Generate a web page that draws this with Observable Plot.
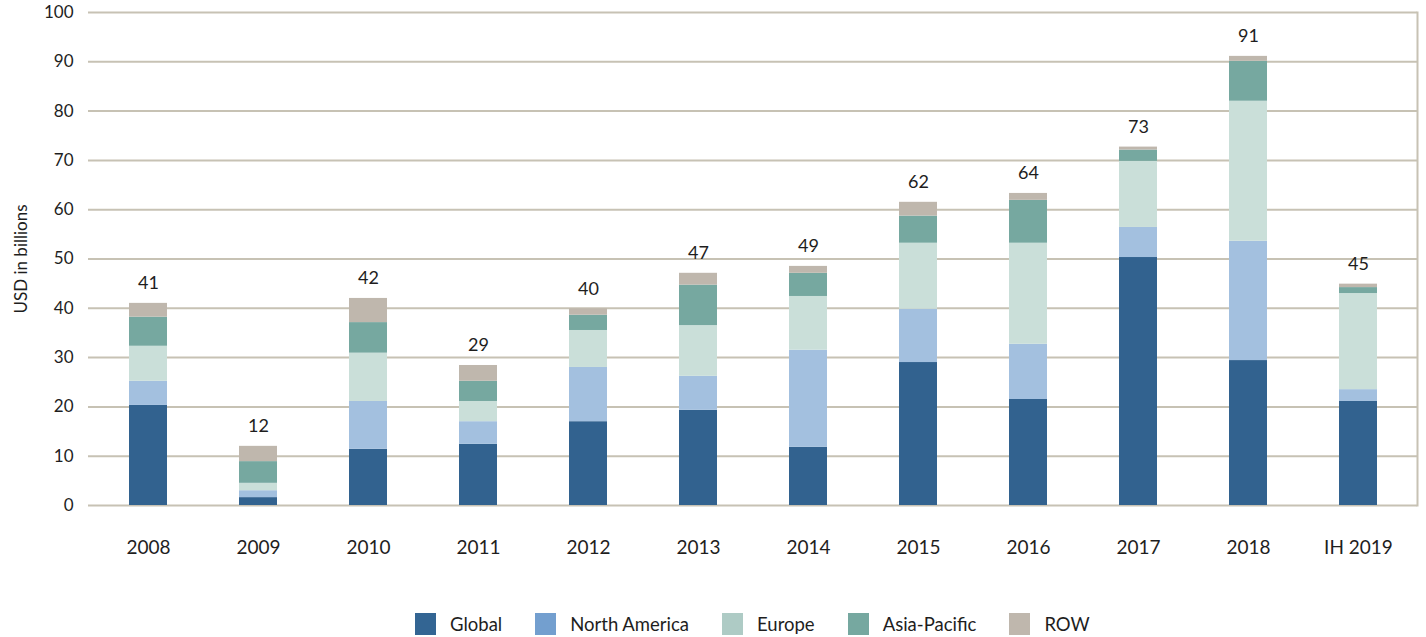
<!DOCTYPE html>
<html>
<head>
<meta charset="utf-8">
<script src="https://cdn.jsdelivr.net/npm/d3@7"></script>
<script src="https://cdn.jsdelivr.net/npm/@observablehq/plot@0.6"></script>
<style>
  html, body { margin: 0; padding: 0; background: #ffffff; }
  #wrap { position: relative; width: 1426px; height: 637px; font-family: Lato, "Open Sans", sans-serif; color: #1e1e1e; }
  #legend { position: absolute; top: 613px; left: 415px; display: flex; align-items: center; font-size: 18.5px; line-height: 22px; }
  .item { display: flex; align-items: center; margin-right: 33px; }
  .sw { width: 21px; height: 22px; margin-right: 14px; }
</style>
</head>
<body>
<div id="wrap"><div id="chart"></div><div id="legend"></div></div>
<script>
const years = ["2008","2009","2010","2011","2012","2013","2014","2015","2016","2017","2018","IH 2019"];
const regions = ["Global","North America","Europe","Asia-Pacific","ROW"];
const global       = [20.3, 1.6, 11.4, 12.4, 17.0, 19.3, 11.8, 29.0, 21.5, 50.3, 29.4, 21.1];
const northAmerica = [ 4.9, 1.4,  9.7,  4.6, 11.0,  6.9, 19.7, 10.8, 11.2,  6.1, 24.2,  2.4];
const europe       = [ 7.1, 1.5,  9.8,  4.1,  7.5, 10.3, 10.9, 13.4, 20.5, 13.4, 28.4, 19.5];
const asiaPacific  = [ 5.9, 4.4,  6.2,  4.1,  3.1,  8.2,  4.7,  5.5,  8.7,  2.3,  8.1,  1.2];
const rowValues    = [ 2.8, 3.1,  4.9,  3.2,  1.3,  2.4,  1.4,  2.8,  1.4,  0.6,  1.0,  0.7];
const totalLabels  = [41, 12, 42, 29, 40, 47, 49, 62, 64, 73, 91, 45];
const yTicks = [0,10,20,30,40,50,60,70,80,90,100];

const barColors = ["#32628f", "#a3c0df", "#cadfd9", "#76a8a0", "#bfb7ad"];
const legendColors = ["#336593", "#739fcf", "#aecbc5", "#76a8a0", "#bfb7ad"];

const series = [global, northAmerica, europe, asiaPacific, rowValues];
const data = [];
regions.forEach((r, i) => years.forEach((y, j) => data.push({year: y, region: r, value: series[i][j]})));
const totals = years.map((y, j) => ({year: y, total: d3.sum(series, s => s[j]), label: String(totalLabels[j])}));

const grid = "#c7c2b4";
const chart = Plot.plot({
  width: 1426,
  height: 590,
  marginLeft: 88,
  marginRight: 9,
  marginTop: 12,
  marginBottom: 85,
  style: {fontFamily: "Lato, 'Open Sans', sans-serif", fontSize: "17px", color: "#1e1e1e", background: "white"},
  x: {domain: years, padding: 0, label: null},
  y: {domain: [0, 100], label: null},
  color: {domain: regions, range: barColors},
  marks: [
    Plot.ruleY(yTicks, {stroke: grid, strokeWidth: 2}),
    Plot.frame({anchor: "right", stroke: grid, strokeWidth: 2}),
    Plot.barY(data, {x: "year", y: "value", fill: "region", order: regions, insetLeft: 36, insetRight: 36}),
    Plot.text(totals, {x: "year", y: "total", text: "label", dy: -20, fontSize: 18, fill: "#1e1e1e"}),
    Plot.axisY({ticks: yTicks, tickSize: 0, tickPadding: 15, fontSize: 17, label: "USD in billions", labelAnchor: "center", labelArrow: "none", labelOffset: 74}),
    Plot.axisX({tickSize: 0, tickPadding: 35, fontSize: 19, label: null})
  ]
});
document.getElementById("chart").appendChild(chart);

const legend = document.getElementById("legend");
regions.forEach((r, i) => {
  const item = document.createElement("div");
  item.className = "item";
  const sw = document.createElement("div");
  sw.className = "sw";
  sw.style.background = legendColors[i];
  const t = document.createElement("span");
  t.textContent = r;
  item.appendChild(sw); item.appendChild(t);
  legend.appendChild(item);
});
</script>
</body>
</html>
